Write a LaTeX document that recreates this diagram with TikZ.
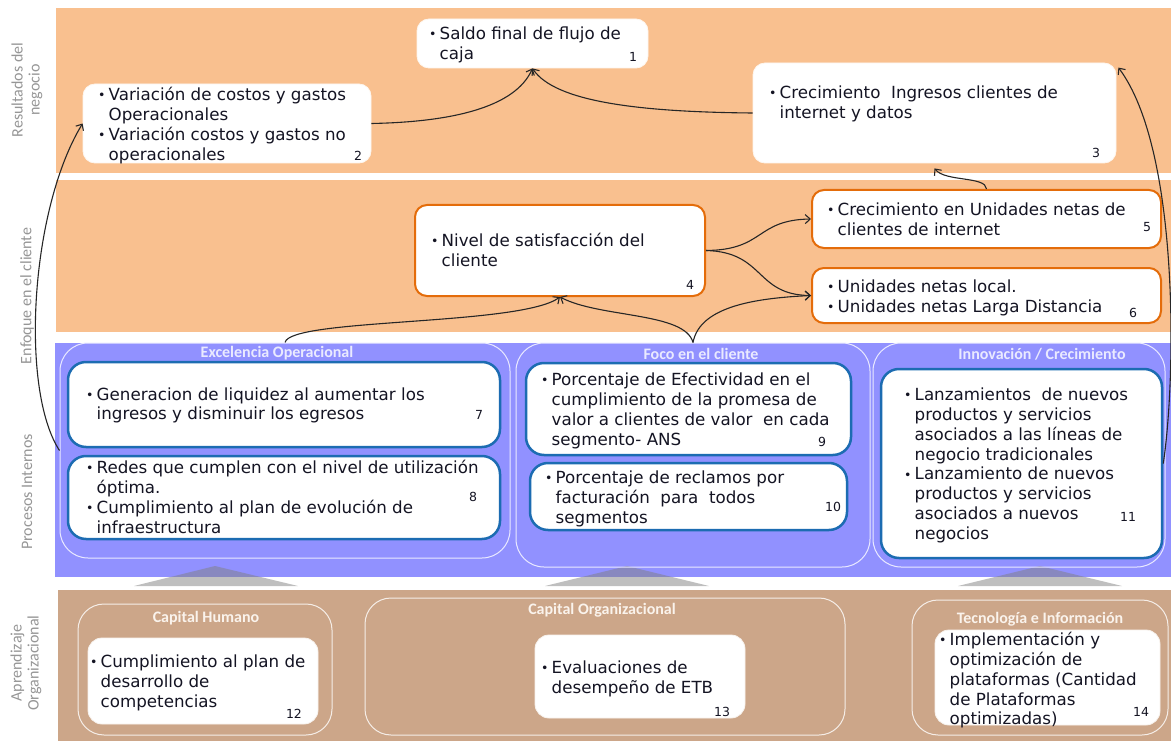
\documentclass[tikz,border=0pt]{standalone}
\usepackage{fontspec}
\setmainfont{DejaVu Sans}
\newfontfamily\titlefont{Carlito}
\usetikzlibrary{arrows.meta,calc}
\definecolor{bandO}{RGB}{249,192,143}
\definecolor{bandP}{RGB}{145,145,255}
\definecolor{bandB}{RGB}{204,166,137}
\definecolor{obord}{RGB}{228,108,10}
\definecolor{bbord}{RGB}{28,108,178}
\definecolor{sidegray}{RGB}{150,150,150}
\definecolor{ptitle}{RGB}{234,234,255}
\definecolor{btitle}{RGB}{250,243,236}
\definecolor{txt}{RGB}{20,20,35}
\newcommand{\bu}{\makebox[10.5pt][l]{\raisebox{0.8pt}{\scalebox{0.75}{•}}}}
\newcommand{\indt}{\hspace*{10.5pt}}
\tikzset{
  resbox/.style={rectangle, rounded corners=12pt, fill=white, draw=white!85!bandO, line width=0.8pt, inner sep=0pt},
  obox/.style={rectangle, rounded corners=12pt, fill=white, draw=obord, line width=2pt, inner sep=0pt},
  pbox/.style={rectangle, rounded corners=18pt, fill=white, draw=bbord, line width=2.5pt, inner sep=0pt},
  abox/.style={rectangle, rounded corners=14pt, fill=white, draw=white!85!bandB, line width=0.8pt, inner sep=0pt},
  pcont/.style={rectangle, rounded corners=28pt, draw=white!80!bandP, line width=1pt, inner sep=0pt},
  bcont/.style={rectangle, rounded corners=26pt, draw=white!80!bandB, line width=1pt, inner sep=0pt},
  txtnode/.style={anchor=north west, inner sep=0pt, align=left, font=\fontsize{16.7}{19.8}\selectfont, text=txt},
  num/.style={inner sep=0pt, font=\fontsize{12.5}{14}\selectfont, text=txt},
  ttlP/.style={inner sep=0pt, font=\titlefont\bfseries\fontsize{16}{18}\selectfont, text=ptitle},
  ttlB/.style={inner sep=0pt, font=\titlefont\bfseries\fontsize{16}{18}\selectfont, text=btitle},
  side/.style={inner sep=0pt, font=\titlefont\fontsize{16}{17}\selectfont, text=sidegray, rotate=90, align=center},
  conn/.style={-{Straight Barb[length=5pt,width=9pt]}, line width=1.1pt, black!85},
  tri/.style={fill=black!50, fill opacity=0.5, draw=none},
}
\begin{document}
\begin{tikzpicture}[x=1pt,y=-1pt]
\useasboundingbox (0,0) rectangle (1171,741);
\fill[white] (0,0) rectangle (1171,741);
% bands
\fill[bandO] (56,8) rectangle (1171,173);
\fill[bandO] (56,180) rectangle (1171,332);
\fill[bandP] (55,343) rectangle (1171,577);
\fill[bandB] (58,590) rectangle (1171,741);
% triangles
\fill[tri] (134,586) -- (215,566) -- (298,586) -- cycle;
\fill[tri] (545,586) -- (627,566) -- (709,586) -- cycle;
\fill[tri] (958,586) -- (1040,566) -- (1122,586) -- cycle;
% side labels
\node[side] (sl1) at (27,90) {Resultados del\\negocio};
\node[side] (sl2) at (27,296) {Enfoque en el cliente};
\node[side] (sl3) at (27,492) {Procesos Internos};
\node[side] (sl4) at (26,663) {Aprendizaje\\Organizacional};
% containers
\node[pcont, minimum width=450pt, minimum height=215pt] (cA) at (285,450.5) {};
\node[pcont, minimum width=354pt, minimum height=224pt] (cB) at (693,455) {};
\node[pcont, minimum width=292pt, minimum height=224pt] (cC) at (1019,455) {};
\node[bcont, minimum width=254pt, minimum height=131pt] (cD) at (205,669.5) {};
\node[bcont, minimum width=480pt, minimum height=137pt] (cE) at (605,666.5) {};
\node[bcont, minimum width=256pt, minimum height=135pt] (cF) at (1040,667.5) {};
\node[ttlP] (tA) at (277,353) {Excelencia Operacional};
\node[ttlP] (tB) at (701,354) {Foco en el cliente};
\node[ttlP] (tC) at (1042,354) {Innovación / Crecimiento};
\node[ttlB] (tD) at (206,618) {Capital Humano};
\node[ttlB] (tE) at (602,610) {Capital Organizacional};
\node[ttlB] (tF) at (1040,619) {Tecnología e Información};
% boxes
\node[resbox, minimum width=231pt, minimum height=49pt] (b1) at (532.5,43.5) {};
\node[resbox, minimum width=288pt, minimum height=79pt] (b2) at (227,123.5) {};
\node[resbox, minimum width=363pt, minimum height=100pt] (b3) at (934.5,113) {};
\node[obox, minimum width=290pt, minimum height=91pt] (b4) at (560,250.5) {};
\node[obox, minimum width=349pt, minimum height=58pt] (b5) at (986.5,219) {};
\node[obox, minimum width=349pt, minimum height=55pt] (b6) at (986.5,295.5) {};
\node[pbox, minimum width=432pt, minimum height=85pt] (b7) at (284,404.5) {};
\node[pbox, minimum width=432pt, minimum height=83pt] (b8) at (284,497.5) {};
\node[pbox, minimum width=325pt, minimum height=92pt] (b9) at (688.5,409) {};
\node[pbox, minimum width=317pt, minimum height=67pt] (b10) at (688.5,496.5) {};
\node[pbox, minimum width=281pt, minimum height=189pt] (b11) at (1021.5,463.5) {};
\node[abox, minimum width=230pt, minimum height=86pt] (b12) at (203,681) {};
\node[abox, minimum width=210pt, minimum height=83pt] (b13) at (640,676.5) {};
\node[abox, minimum width=225pt, minimum height=95pt] (b14) at (1047.5,677.5) {};
% texts
\node[txtnode] (x1) at (429,25.6) {\strut\bu Saldo final de flujo de\\\indt caja};
\node[txtnode] (x2) at (98,86.6) {\strut\bu Variación de costos y gastos\\\indt Operacionales\\\bu Variación costos y gastos no\\\indt operacionales};
\node[txtnode] (x3) at (769,84.6) {\strut\bu Crecimiento~ Ingresos clientes de\\\indt internet y datos};
\node[txtnode] (x4) at (431,232.6) {\strut\bu Nivel de satisfacción del\\\indt cliente};
\node[txtnode] (x5) at (827,201.6) {\strut\bu Crecimiento en Unidades netas de\\\indt clientes de internet};
\node[txtnode] (x6) at (827,278.6) {\strut\bu Unidades netas local.\\\bu Unidades netas Larga Distancia};
\node[txtnode] (x7) at (86,386) {\strut\bu Generacion de liquidez al aumentar los\\\indt ingresos y disminuir los egresos};
\node[txtnode] (x8) at (86,459.6) {\strut\bu Redes que cumplen con el nivel de utilización\\\indt óptima.\\\bu Cumplimiento al plan de evolución de\\\indt infraestructura};
\node[txtnode] (x9) at (541,371.6) {\strut\bu Porcentaje de Efectividad en el\\\indt cumplimiento de la promesa de\\\indt valor a clientes de valor~ en cada\\\indt segmento- ANS};
\node[txtnode] (x10) at (545,469.6) {\strut\bu Porcentaje de reclamos por\\\indt facturación~ para~ todos\\\indt segmentos};
\node[txtnode] (x11) at (904,386.6) {\strut\bu Lanzamientos~ de nuevos\\\indt productos y servicios\\\indt asociados a las líneas de\\\indt negocio tradicionales\\\bu Lanzamiento de nuevos\\\indt productos y servicios\\\indt asociados a nuevos\\\indt negocios};
\node[txtnode] (x12) at (90,653.6) {\strut\bu Cumplimiento al plan de\\\indt desarrollo de\\\indt competencias};
\node[txtnode] (x13) at (541,659.6) {\strut\bu Evaluaciones de\\\indt desempeño de ETB};
\node[txtnode] (x14) at (939,631.6) {\strut\bu Implementación y\\\indt optimización de\\\indt plataformas (Cantidad\\\indt de Plataformas\\\indt optimizadas)};
% numbers
\node[num] (n1) at (633,57) {1};
\node[num] (n2) at (358,156) {2};
\node[num] (n3) at (1096,153) {3};
\node[num] (n4) at (690,285) {4};
\node[num] (n5) at (1147,227) {5};
\node[num] (n6) at (1133,313) {6};
\node[num] (n7) at (479,415) {7};
\node[num] (n8) at (473,497) {8};
\node[num] (n9) at (822,442) {9};
\node[num] (n10) at (833,507) {10};
\node[num] (n11) at (1128,517) {11};
\node[num] (n12) at (294,714) {12};
\node[num] (n13) at (722,712) {13};
\node[num] (n14) at (1141,712) {14};
% connectors
\draw[conn] (b2.east) .. controls (450,122) and (515,108) .. (b1.south);
\draw[conn] (b3.west) .. controls (640,112) and (555,102) .. (b1.south);
\draw[conn] (b5.north) .. controls (986,176) and (945,182) .. ($(b3.south)+(0,5)$);
\draw[conn] (b4.east) .. controls (765,250) and (755,220) .. (b5.west);
\draw[conn] (b4.east) .. controls (765,252) and (755,295) .. (b6.west);
\draw[conn] (cA.north) .. controls (290,318) and (520,326) .. (b4.south);
\draw[conn] (cB.north) .. controls (685,312) and (600,318) .. (b4.south);
\draw[conn] (cB.north) .. controls (700,305) and (760,298) .. (b6.west);
\draw[conn] (cA.west) .. controls (20,390) and (30,210) .. (b2.west);
\draw[conn] (b11.east) .. controls (1176,380) and (1180,150) .. ($(b3.north east)+(2,5)$);
\end{tikzpicture}
\end{document}
